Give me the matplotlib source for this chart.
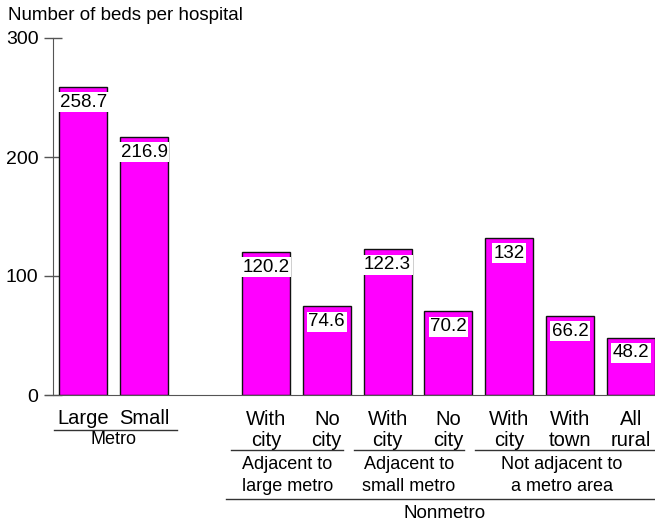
import matplotlib
matplotlib.use("Agg")
import matplotlib.pyplot as plt
import matplotlib.transforms as mtransforms

plt.rcParams['font.family'] = ['Liberation Sans', 'DejaVu Sans']

# Data
positions = [0, 1, 3, 4, 5, 6, 7, 8, 9]
values = [258.7, 216.9, 120.2, 74.6, 122.3, 70.2, 132, 66.2, 48.2]
value_labels = ["258.7", "216.9", "120.2", "74.6", "122.3", "70.2", "132", "66.2", "48.2"]
cat_labels = ["Large", "Small", "With\ncity", "No\ncity", "With\ncity", "No\ncity",
              "With\ncity", "With\ntown", "All\nrural"]
yticks = [0, 100, 200, 300]
title = "Number of beds per hospital"

W, H = 655, 525
fig = plt.figure(figsize=(W / 100, H / 100), dpi=100)
ax = fig.add_axes([53 / W, 130 / H, (W - 53) / W, (395 - 38) / H])

ax.bar(positions, values, width=0.79, color="#FF00FF", edgecolor="#111111", linewidth=1.0, zorder=2)

for x, v, lab in zip(positions, values, value_labels):
    ax.annotate(lab, xy=(x, v), xytext=(0, -11), textcoords="offset points",
                ha="center", va="center", fontsize=13.5, color="#000000", zorder=3,
                bbox=dict(boxstyle="square,pad=0.08", fc="white", ec="none"))

ax.set_xlim(-0.5, 9.395)
ax.set_ylim(0, 300)
ax.set_yticks(yticks)
ax.set_yticklabels([str(t) for t in yticks], fontsize=14)
ax.tick_params(axis="y", direction="inout", length=13, width=1, color="#555555", pad=4)
ax.set_xticks([])
for s in ["top", "right"]:
    ax.spines[s].set_visible(False)
ax.spines["left"].set_color("#555555")
ax.spines["bottom"].set_color("#555555")
ax.spines["bottom"].set_bounds(-0.63, 9.395)

fig.text(8 / W, 1 - 15 / H, title, ha="left", va="center", fontsize=13.5)

blend = mtransforms.blended_transform_factory(ax.transData, fig.transFigure)

def fy(py):
    return 1 - py / H

# category labels
for x, lab in zip(positions, cat_labels):
    if "\n" in lab:
        ax.text(x, fy(430), lab, transform=blend, ha="center", va="center",
                fontsize=14.5, linespacing=1.08, clip_on=False)
    else:
        ax.text(x, fy(419), lab, transform=blend, ha="center", va="center",
                fontsize=14.5, clip_on=False)

line_kw = dict(transform=blend, color="#333333", linewidth=1.0, clip_on=False)
# Metro
ax.plot([-0.48, 1.53], [fy(430), fy(430)], **line_kw)
ax.text(0.5, fy(440), "Metro", transform=blend, ha="center", va="center", fontsize=13, clip_on=False)

# Nonmetro sub-groups
groups = [((2.43, 4.27), 3.35, "Adjacent to\nlarge metro"),
          ((4.45, 6.25), 5.35, "Adjacent to\nsmall metro"),
          ((6.43, 9.395), 7.86, "Not adjacent to\na metro area")]
for (x0, x1), xc, lab in groups:
    ax.plot([x0, x1], [fy(450), fy(450)], **line_kw)
    ax.text(xc, fy(475.5), lab, transform=blend, ha="center",
            va="center", fontsize=13, linespacing=1.38, clip_on=False)

ax.plot([2.35, 9.395], [fy(499), fy(499)], **line_kw)
ax.text(5.93, fy(513), "Nonmetro", transform=blend, ha="center", va="center", fontsize=13.5, clip_on=False)

fig.savefig("out.png", dpi=100)
